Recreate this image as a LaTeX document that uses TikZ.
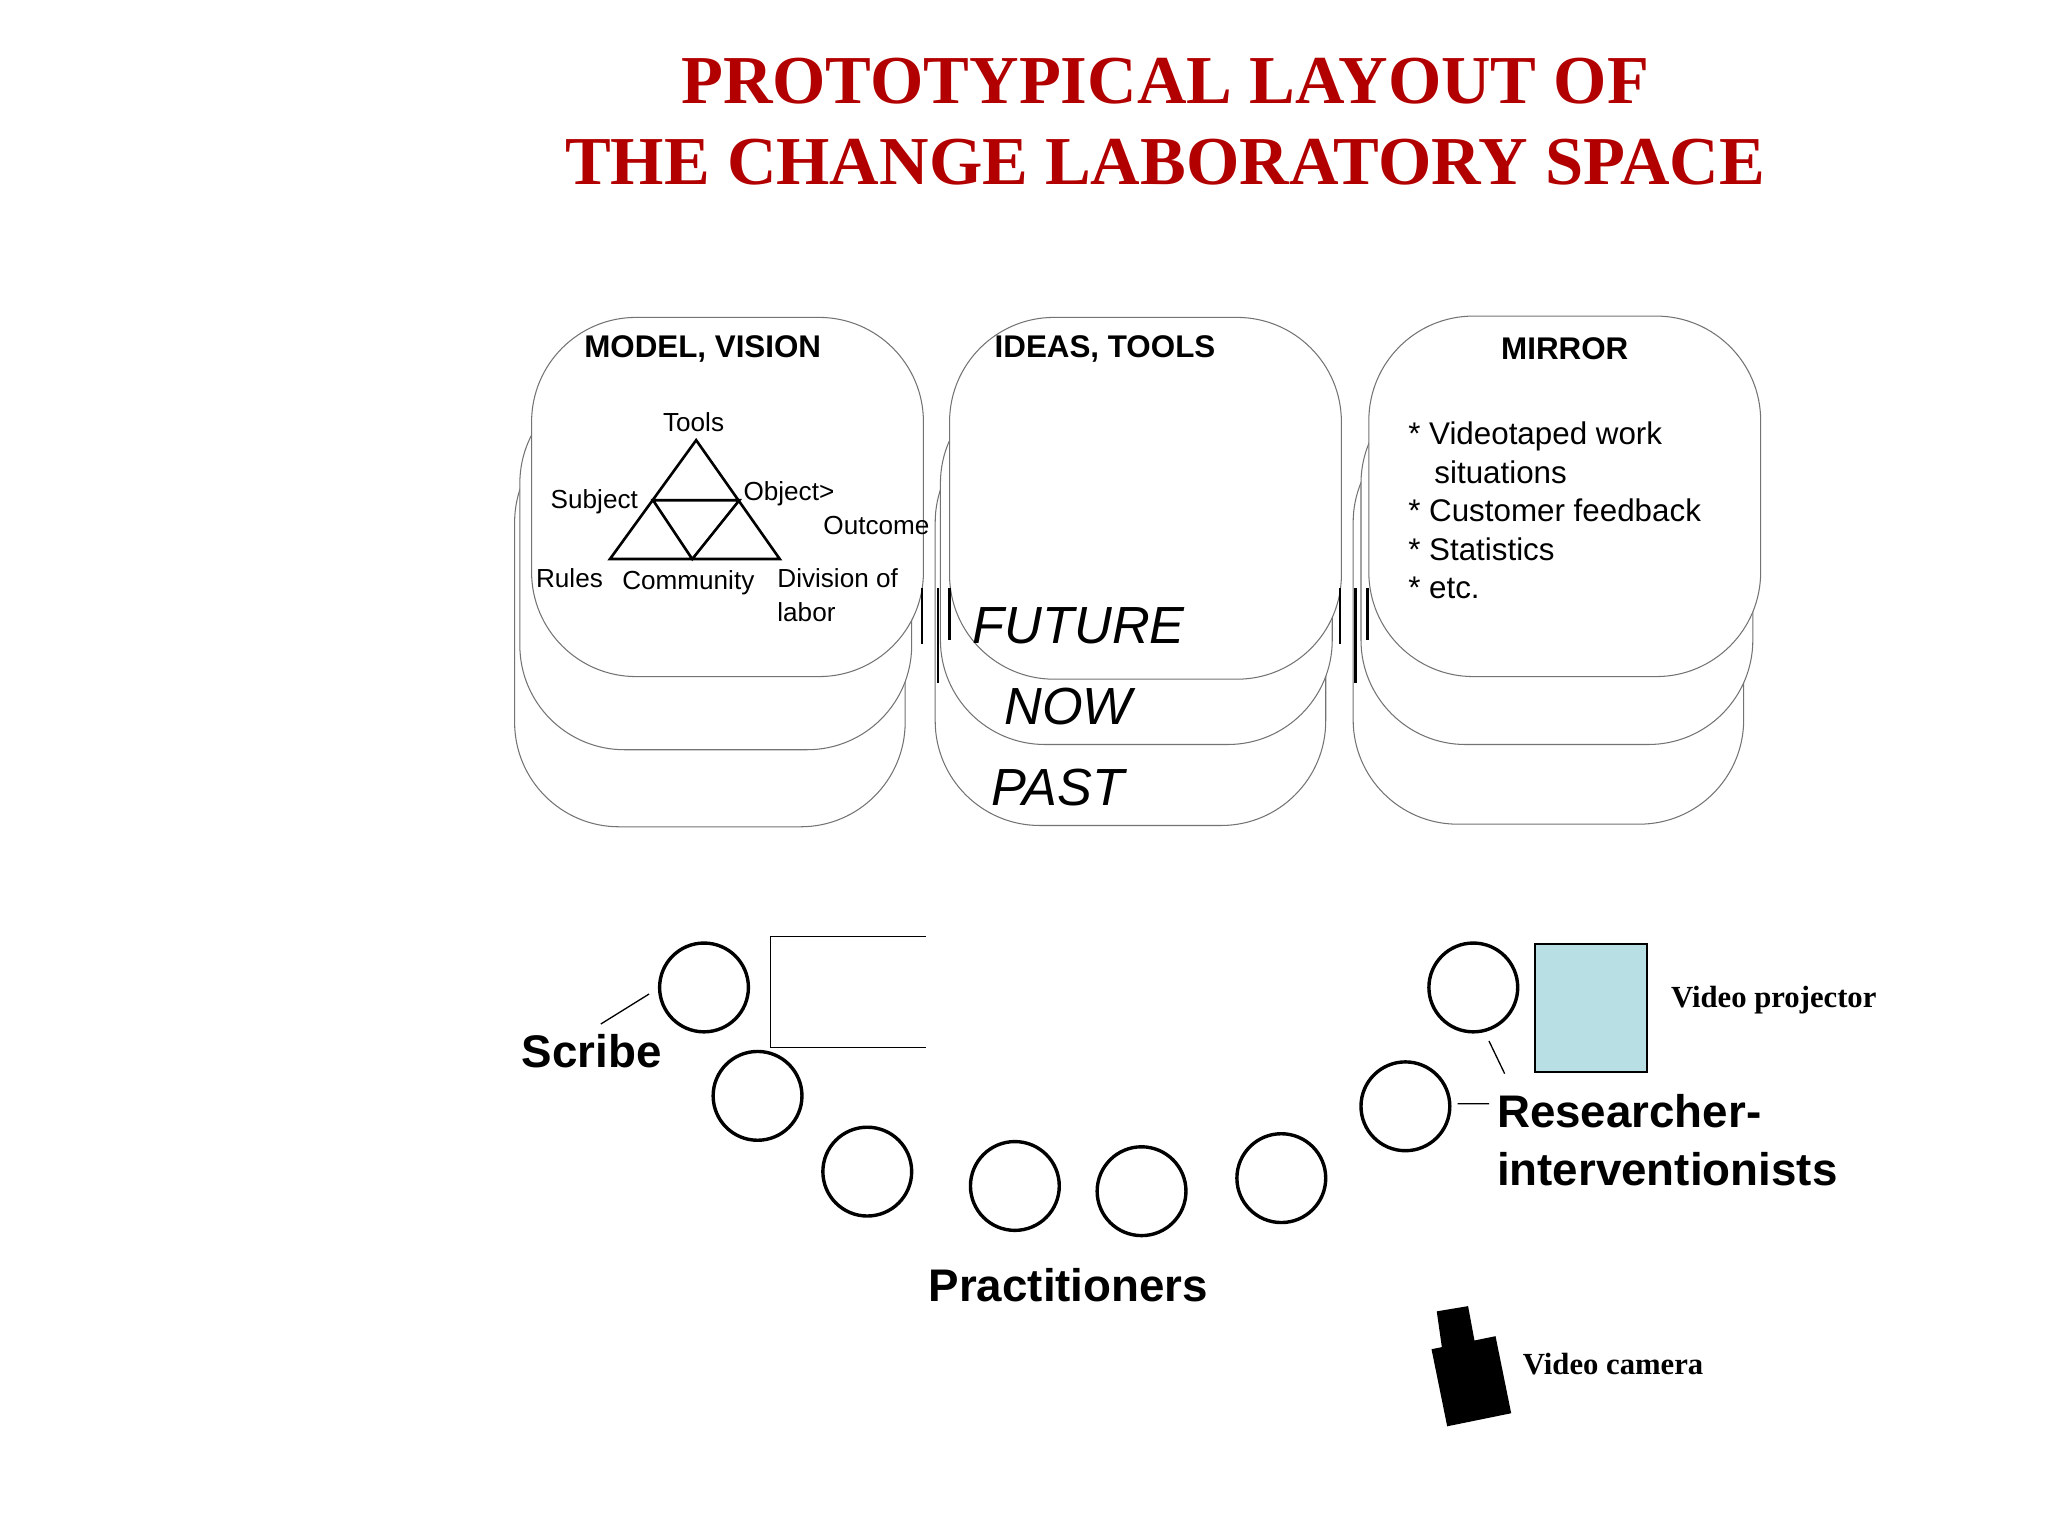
\documentclass[tikz,border=0pt]{standalone}
\usepackage{fontspec}
\setmainfont{Liberation Serif}
\setsansfont{Liberation Sans}
\begin{document}
\begin{tikzpicture}[x=1pt,y=-1pt,
  board/.style={draw=black!55,line width=0.8pt,fill=white,rounded corners=80pt},
  seat/.style={circle,draw,line width=2.6pt,minimum size=68pt,inner sep=0pt},
  lbl/.style={font=\sffamily\fontsize{20}{24}\selectfont,inner sep=0pt},
  head/.style={font=\sffamily\bfseries\fontsize{24}{28}\selectfont,inner sep=0pt},
  big/.style={font=\sffamily\bfseries\fontsize{35}{44}\selectfont,inner sep=0pt},
  serifl/.style={font=\bfseries\fontsize{23.5}{28}\selectfont,inner sep=0pt},
  time/.style={font=\sffamily\itshape\fontsize{40}{48}\selectfont,inner sep=0pt},
  bar/.style={line width=2pt}]
\useasboundingbox (0,0) rectangle (1568,1176);
\node[font=\bfseries\fontsize{52.5}{62}\selectfont,text=red!70!black,align=center,inner sep=0pt] (title) at (892,93) {PROTOTYPICAL LAYOUT OF\\THE CHANGE LABORATORY SPACE};
% stacks
\foreach \x/\y in {394/633,716/632,1036/631}{\draw[board] (\x,320) rectangle (\x+299,\y);}
\foreach \x/\y in {398/574,720/570,1042/570}{\draw[board] (\x,290) rectangle (\x+300,\y);}
\draw[board] (407,243) rectangle (707,518);
\draw[board] (727,243) rectangle (1027,520);
\draw[board] (1048,242) rectangle (1348,518);
% bars
\foreach \o in {0,320}{
 \draw[bar] (706+\o,450) -- (706+\o,493);
 \draw[bar] (718+\o,450) -- (718+\o,523);
 \draw[bar] (727+\o,450) -- (727+\o,490);}
\node[head] (h1) at (538,267) {MODEL, VISION};
\node[head] (h2) at (846,267) {IDEAS, TOOLS};
\node[head] (h3) at (1198,267) {MIRROR};
% triangle
\coordinate (A) at (533,337); \coordinate (B) at (467,428); \coordinate (C) at (597,428);
\coordinate (AB) at (500,383); \coordinate (AC) at (566,383); \coordinate (BC) at (530,428);
\draw[line width=2pt,line join=miter] (A) -- (B) -- (C) -- cycle (AB) -- (AC) -- (BC) -- cycle;
\node[lbl] (t1) at (531,323) {Tools};
\node[lbl] (t2) at (455,384) {Subject};
\node[lbl] (t3) at (604,378) {Object>};
\node[lbl] (t4) at (671,402) {Outcome};
\node[lbl] (t5) at (436,443) {Rules};
\node[lbl] (t6) at (527,446) {Community};
\node[lbl,align=left,anchor=north west] (t7) at (595,435) {Division of\\[2pt]labor};
\node[time] (f) at (826,479) {FUTURE};
\node[time] (n) at (818,541) {NOW};
\node[time] (p) at (810,603) {PAST};
\node[font=\sffamily\fontsize{24}{29.5}\selectfont,align=left,anchor=north west,inner sep=0pt] (m) at (1078,323)
 {* Videotaped work\\\hspace*{20pt}situations\\* Customer feedback\\* Statistics\\* etc.};
% room
\foreach \n/\x/\y in {s1/539/756,s2/580/839,s3/664/897,s4/777/908,s5/874/912,s6/981/902,s7/1076/847,s8/1128/756}
  \node[seat] (\n) at (\x,\y) {};
\node[big] (scribe) at (453,805) {Scribe};
\coordinate (sc1) at (460,784); \coordinate (sc2) at (497,761);
\draw[line width=1pt] (sc1) -- (sc2);
\coordinate (r1) at (709,717); \coordinate (r2) at (590,717); \coordinate (r3) at (590,802); \coordinate (r4) at (709,802);
\draw[line width=1pt] (r1) -- (r2) -- (r3) -- (r4);
\node[draw,line width=1.6pt,fill={rgb,255:red,184;green,224;blue,228},minimum width=86pt,minimum height=98pt,inner sep=0pt] (proj) at (1218,772) {};
\node[serifl] (vp) at (1358,766) {Video projector};
\node[big,align=left,anchor=west] (res) at (1146,873) {Researcher-\\interventionists};
\coordinate (l1) at (1140,797); \coordinate (l2) at (1152,822);
\coordinate (l3) at (1116,845); \coordinate (l4) at (1140,845);
\draw[line width=1pt] (l1) -- (l2) (l3) -- (l4);
\node[big] (prac) at (818,984) {Practitioners};
\fill (1100,1004) -- (1124,1000) -- (1129,1027) -- (1104,1032) -- cycle;
\fill (1096,1033) -- (1145,1023) -- (1157,1082) -- (1108,1092) -- cycle;
\node[serifl] (vc) at (1235,1044) {Video camera};
\end{tikzpicture}
\end{document}
